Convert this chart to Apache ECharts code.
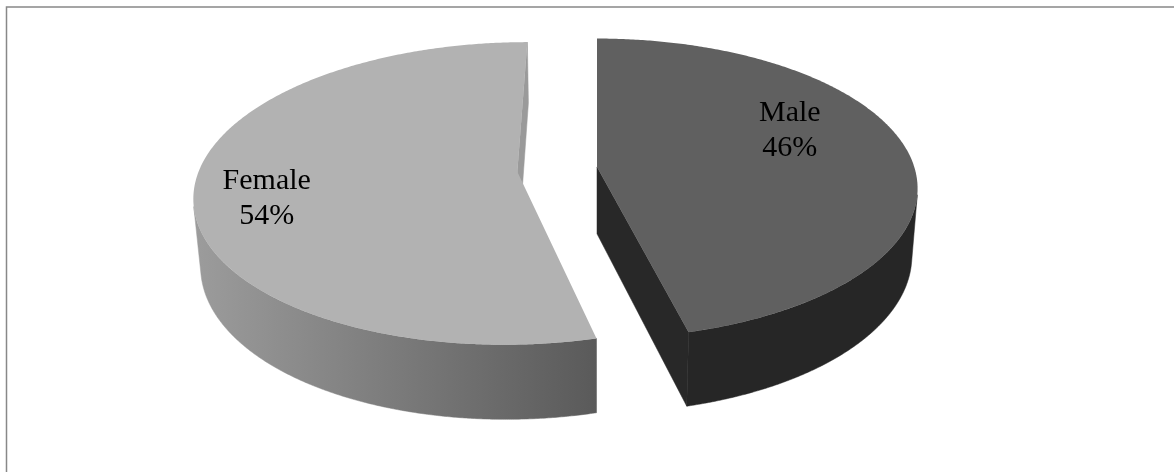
<!DOCTYPE html>
<html>
<head>
<meta charset="utf-8">
<script src="https://cdn.jsdelivr.net/npm/echarts@6/dist/echarts.min.js"></script>
<style>
html,body{margin:0;padding:0;background:#fff;}
#chart{width:1174px;height:472px;}
</style>
</head>
<body>
<div id="chart"></div>
<script>
// ---- data ----
const categories = ['Male', 'Female'];
const values = [46, 54];

// ---- styling ----
const topColors = ['#606060', '#b2b2b2'];
const radialColors = ['#282828', '#9a9a9a'];
const sideSolid = ['#262626', null];
const sideGrad = [null, ['#9c9c9c', '#5a5a5a']];
const labelPlacement = [{r: 0.68, dAng: -14.9}, {r: 0.78, dAng: -5.8}];

// ---- 3D projection parameters (pie radius = 1) ----
const P = {
  sx0: 597, sy0: 169.3, A: 318, k: 147.5, h: 284,
  e: 0.1437, g: 0.0746, xc: 0.125,
  camX: 0.125, camZ: 5.49, E: 0.126, H: 0.24
};
function proj(x, y, z) {
  const d = 1 - P.e * z - P.g * y;
  return [P.sx0 + P.A * (x - P.xc) / d, P.sy0 + (P.k * z - P.h * y) / d];
}
const total = values.reduce((a, b) => a + b, 0);
const RAD = Math.PI / 180;

function renderItem(params, api) {
  const i = params.dataIndex;
  let a0 = 0;
  for (let j = 0; j < i; j++) a0 += values[j] / total * 360;
  const a1 = a0 + values[i] / total * 360;
  const m = (a0 + a1) / 2 * RAD;
  const ox = P.E * Math.sin(m), oz = -P.E * Math.cos(m);
  const rim = (t, y) => { const r = t * RAD; return proj(ox + Math.sin(r), y, oz - Math.cos(r)); };
  const children = [];

  // outer curved side (front-facing runs only)
  const steps = Math.ceil((a1 - a0) * 3);
  let run = [];
  const flush = () => {
    if (run.length > 1) {
      const topPts = run.map(t => rim(t, 0));
      const botPts = run.slice().reverse().map(t => rim(t, -P.H));
      const pts = topPts.concat(botPts);
      let fill;
      if (sideGrad[i]) {
        const xs = pts.map(p => p[0]);
        const minX = Math.min.apply(null, xs), maxX = Math.max.apply(null, xs);
        fill = new echarts.graphic.LinearGradient(minX, 0, maxX, 0, [
          {offset: 0, color: sideGrad[i][0]}, {offset: 1, color: sideGrad[i][1]}
        ], true);
      } else {
        fill = sideSolid[i];
      }
      children.push({type: 'polygon', shape: {points: pts}, style: {fill: fill, stroke: fill, lineWidth: 0.5}});
    }
    run = [];
  };
  for (let s = 0; s <= steps; s++) {
    const t = a0 + (a1 - a0) * s / steps;
    const r = t * RAD;
    const px = ox + Math.sin(r), pz = oz - Math.cos(r);
    const vis = Math.sin(r) * (P.camX - px) + (-Math.cos(r)) * (P.camZ - pz) > 0;
    if (vis) run.push(t); else flush();
  }
  flush();

  // radial cut faces
  const apexT = proj(ox, 0, oz), apexB = proj(ox, -P.H, oz);
  [[a0, -1], [a1, 1]].forEach(([t, sg]) => {
    const r = t * RAD;
    const nx = sg * Math.cos(r), nz = sg * Math.sin(r);
    const dot = nx * (P.camX - ox) + nz * (P.camZ - oz);
    if (dot > 1e-4) {
      children.push({type: 'polygon', shape: {points: [apexT, rim(t, 0), rim(t, -P.H), apexB]},
        style: {fill: radialColors[i], stroke: radialColors[i], lineWidth: 0.5}});
    }
  });

  // top face
  const topPts = [apexT];
  const ts = Math.ceil((a1 - a0) * 2);
  for (let s = 0; s <= ts; s++) topPts.push(rim(a0 + (a1 - a0) * s / ts, 0));
  children.push({type: 'polygon', shape: {points: topPts}, style: {fill: topColors[i]}});

  // label
  const lp = labelPlacement[i];
  const lt = ((a0 + a1) / 2 + lp.dAng) * RAD;
  const lpos = proj(ox + lp.r * Math.sin(lt), 0, oz - lp.r * Math.cos(lt));
  children.push({
    type: 'text', x: lpos[0], y: lpos[1],
    style: {
      text: categories[i] + '\n' + Math.round(values[i] / total * 100) + '%',
      fill: '#000', font: '30px "Liberation Serif", "Times New Roman", serif',
      lineHeight: 35, align: 'center', verticalAlign: 'middle'
    }
  });
  return {type: 'group', children: children};
}

const chart = echarts.init(document.getElementById('chart'), null, {renderer: 'canvas'});
chart.setOption({
  backgroundColor: '#fff',
  animation: false,
  graphic: [{
    type: 'rect', z: 100, silent: true,
    shape: {x: 6.5, y: 7, width: 1300, height: 600},
    style: {fill: null, stroke: '#888', lineWidth: 1.5}
  }],
  series: [{
    type: 'custom',
    coordinateSystem: 'none',
    renderItem: renderItem,
    data: values.map((v, i) => ({name: categories[i], value: v}))
  }]
});
</script>
</body>
</html>
